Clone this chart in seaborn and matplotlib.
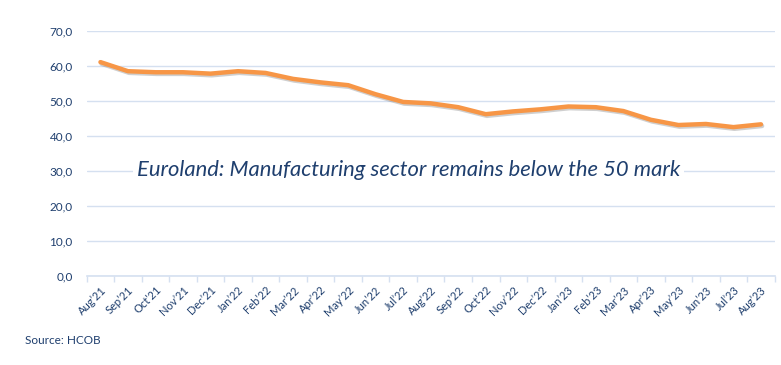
import matplotlib
matplotlib.use("Agg")
import matplotlib.pyplot as plt
import matplotlib.patheffects as pe
import pandas as pd
import seaborn as sns

# Euroland manufacturing PMI
months = ["Aug’21", "Sep’21", "Oct’21", "Nov’21", "Dec’21", "Jan’22", "Feb’22",
          "Mar’22", "Apr’22", "May’22", "Jun’22", "Jul’22", "Aug’22", "Sep’22",
          "Oct’22", "Nov’22", "Dec’22", "Jan’23", "Feb’23", "Mar’23", "Apr’23",
          "May’23", "Jun’23", "Jul’23", "Aug’23"]
pmi = [61.2, 58.6, 58.3, 58.3, 57.9, 58.6, 58.1, 56.4, 55.4, 54.6, 52.0, 49.8,
       49.4, 48.3, 46.3, 47.1, 47.7, 48.5, 48.3, 47.2, 44.7, 43.2, 43.5, 42.6, 43.4]
y_ticks = [0, 10, 20, 30, 40, 50, 60, 70]

title_text = "Euroland: Manufacturing sector remains below the 50 mark"
source_text = "Source: HCOB"

df = pd.DataFrame({"pos": range(len(months)), "month": months, "pmi": pmi})

navy = "#1F3F6E"
grid_col = "#D5E0F0"

sns.set_theme(style="white")
plt.rcParams["font.family"] = ["Lato", "DejaVu Sans"]

fig = plt.figure(figsize=(7.81, 3.65), dpi=100)
ax = fig.add_axes([0.111, 0.2438, 0.881, 0.6703])

sns.lineplot(data=df, x="pos", y="pmi", ax=ax, color="#F79646", linewidth=3.2,
             solid_capstyle="round",
             path_effects=[pe.SimpleLineShadow(offset=(0.8, -1.2), alpha=0.35, shadow_color="#777777"),
                           pe.Normal()])

ax.set_xlim(-0.5, len(months) - 0.5)
ax.set_ylim(0, 70)
ax.set_yticks(y_ticks)
ax.set_yticklabels([f"{v:.1f}".replace(".", ",") for v in y_ticks])
ax.grid(axis="y", color=grid_col, linewidth=1.0)
ax.set_axisbelow(True)

# category boundaries as ticks, labels at the centres
ax.set_xticks([i - 0.5 for i in range(len(months) + 1)])
ax.set_xticklabels([])
ax.set_xticks(range(len(months)), minor=True)
ax.set_xticklabels(months, minor=True, rotation=45, ha="right", rotation_mode="anchor",
                   fontsize=8, color=navy)
ax.tick_params(axis="x", which="major", length=4, width=1, color=grid_col, bottom=True)
ax.tick_params(axis="x", which="minor", length=0, pad=6)
ax.tick_params(axis="y", length=0, pad=10, labelsize=8.5, labelcolor=navy)

for side in ["left", "right", "top"]:
    ax.spines[side].set_visible(False)
ax.spines["bottom"].set_color(grid_col)
ax.spines["bottom"].set_linewidth(1.2)
ax.set_xlabel("")
ax.set_ylabel("")

ax.text(11.2, 28.6, title_text, ha="center", va="baseline", fontsize=15.8,
        style="italic", color=navy,
        bbox=dict(facecolor="white", edgecolor="none", pad=3))

fig.text(25 / 781, 1 - 341 / 365, source_text, ha="left", va="center",
         fontsize=8.5, color=navy)

fig.savefig("out.png", dpi=100)
